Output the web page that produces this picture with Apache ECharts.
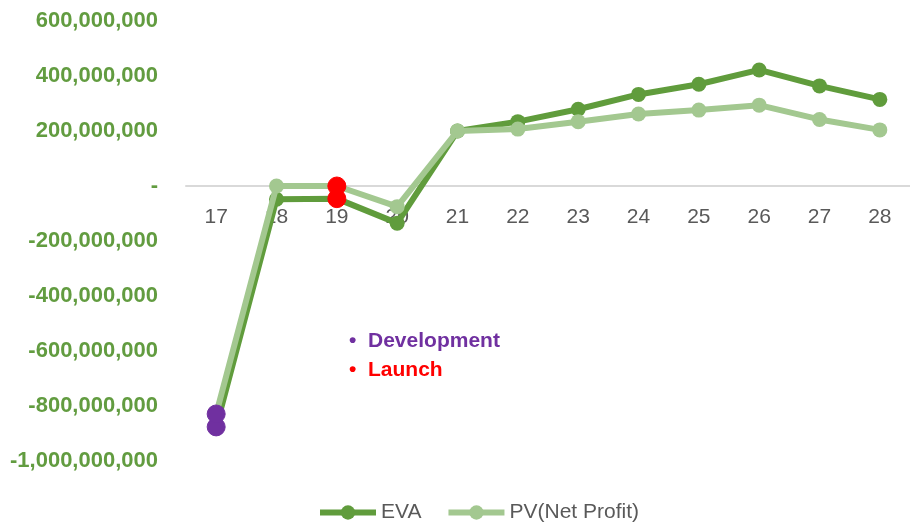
<!DOCTYPE html>
<html>
<head>
<meta charset="utf-8">
<title>EVA vs PV(Net Profit)</title>
<script src="https://cdn.jsdelivr.net/npm/echarts@6/dist/echarts.min.js"></script>
<style>
  html, body { margin: 0; padding: 0; background: #ffffff; }
  #chart { width: 910px; height: 527px; }
</style>
</head>
<body>
<div id="chart"></div>
<script>
// Years on the category axis
const years = ['17', '18', '19', '20', '21', '22', '23', '24', '25', '26', '27', '28'];

// Economic value added per year
const eva = [-876000000, -48000000, -46000000, -135000000, 200000000, 234000000, 279000000, 333000000, 370000000, 422000000, 364000000, 315000000];

// Present value of net profit per year
const pvNetProfit = [-829000000, 0, 0, -75000000, 200000000, 207000000, 234000000, 262000000, 276000000, 294000000, 242000000, 204000000];

// Phase markers: index of the year each phase applies to
const phaseNames = ['Development', 'Launch'];
const phaseIndex = [0, 2];
const phaseColors = ['#7030A0', '#FF0000'];

const seriesNames = ['EVA', 'PV(Net Profit)'];
const seriesColors = ['#609C3C', '#A3C890'];

const FONT = '"Liberation Sans", Arial, sans-serif';

// Value axis range
const Y_MIN = -1000000000;
const Y_MAX = 600000000;
const Y_STEP = 200000000;

// Plot area
const GRID = { left: 186, top: 21, width: 737, height: 440 };

// Distance from the bottom of the plot to the zero line, so the year axis sits on zero
const zeroOffset = GRID.height * (0 - Y_MIN) / (Y_MAX - Y_MIN);

function withPhases(values) {
  return values.map((v, i) => {
    const p = phaseIndex.indexOf(i);
    if (p === -1) return v;
    return {
      value: v,
      symbolSize: 18,
      itemStyle: { color: phaseColors[p], borderColor: phaseColors[p] }
    };
  });
}

const chart = echarts.init(document.getElementById('chart'), null, { renderer: 'canvas' });

chart.setOption({
  animation: false,
  backgroundColor: '#ffffff',
  grid: Object.assign({ containLabel: false }, GRID),
  xAxis: {
    type: 'category',
    data: years,
    boundaryGap: true,
    position: 'bottom',
    offset: -zeroOffset,
    axisLine: { show: true, onZero: false, lineStyle: { color: '#D9D9D9', width: 2 } },
    axisTick: { show: false },
    axisLabel: { color: '#595959', fontSize: 21, fontFamily: FONT, margin: 21 },
    splitLine: { show: false }
  },
  yAxis: {
    type: 'value',
    min: Y_MIN,
    max: Y_MAX,
    interval: Y_STEP,
    axisLine: { show: false },
    axisTick: { show: false },
    splitLine: { show: false },
    axisLabel: {
      color: '#629C40',
      fontSize: 22,
      fontWeight: 'bold',
      fontFamily: FONT,
      margin: 28,
      formatter: v => (v === 0 ? '-' : v.toLocaleString('en-US'))
    }
  },
  legend: {
    left: 317,
    top: 502,
    padding: 0,
    itemWidth: 56,
    itemHeight: 18,
    itemGap: 24,
    lineStyle: { width: 6 },
    textStyle: { color: '#595959', fontSize: 21, fontFamily: FONT },
    data: seriesNames
  },
  series: [
    {
      name: seriesNames[0],
      type: 'line',
      data: withPhases(eva),
      z: 2,
      symbol: 'circle',
      symbolSize: 15,
      showSymbol: true,
      color: seriesColors[0],
      lineStyle: { color: seriesColors[0], width: 6 },
      itemStyle: { color: seriesColors[0] }
    },
    {
      name: seriesNames[1],
      type: 'line',
      data: withPhases(pvNetProfit),
      z: 3,
      symbol: 'circle',
      symbolSize: 15,
      showSymbol: true,
      color: seriesColors[1],
      lineStyle: { color: seriesColors[1], width: 6 },
      itemStyle: { color: seriesColors[1] }
    }
  ],
  graphic: phaseNames.map((name, i) => ({
    type: 'text',
    left: 349,
    top: 331 + i * 29,
    style: {
      text: '\u2022  ' + name,
      fill: phaseColors[i],
      font: 'bold 21px ' + FONT
    }
  }))
});
</script>
</body>
</html>
